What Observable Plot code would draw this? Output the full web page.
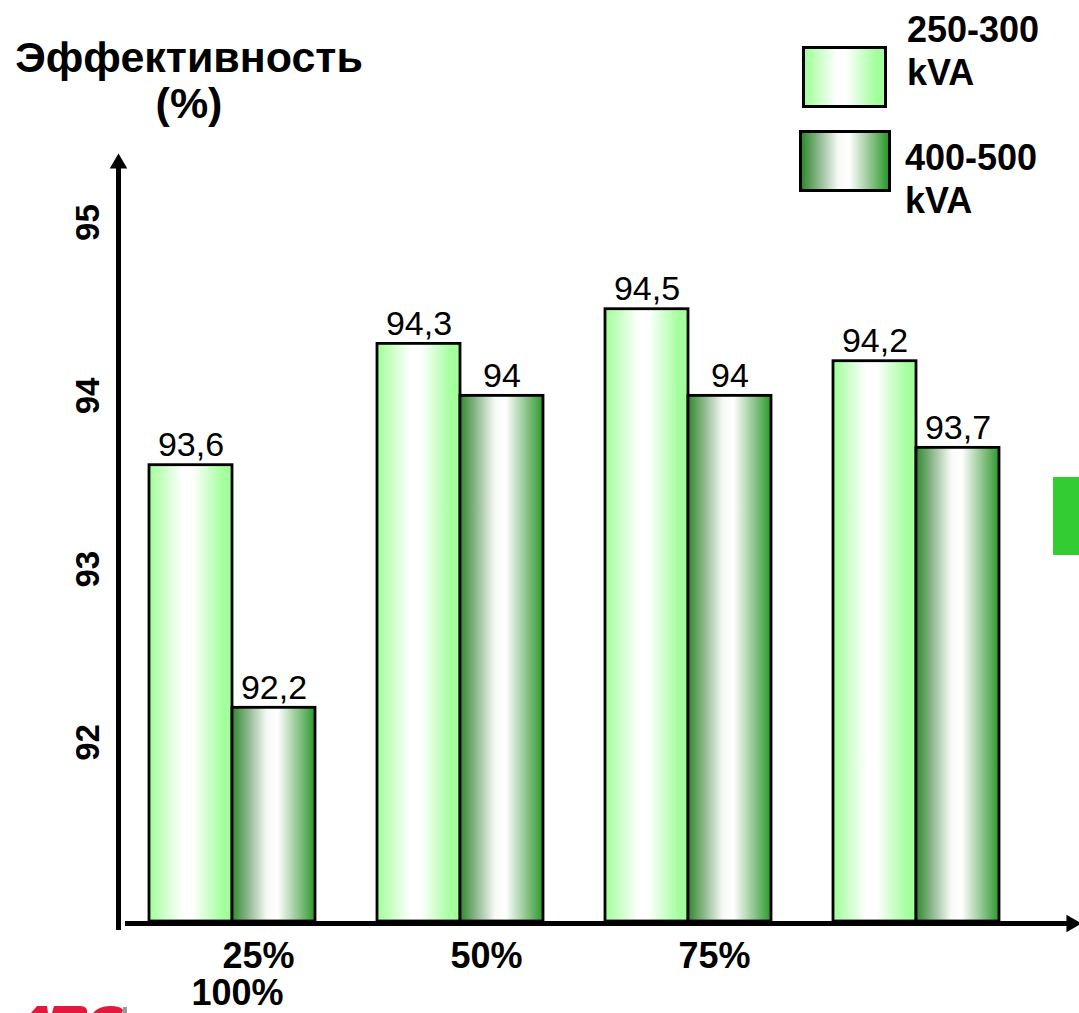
<!DOCTYPE html>
<html><head><meta charset="utf-8">
<script src="https://cdn.jsdelivr.net/npm/d3@7"></script>
<script src="https://cdn.jsdelivr.net/npm/@observablehq/plot@0.6"></script>
<style>
body{margin:0;background:#fff;}
#wrap{position:relative;width:1079px;height:1013px;overflow:hidden;font-family:"Liberation Sans",Arial,sans-serif;color:#000;}
#chart{position:absolute;left:0;top:0;}
.title{position:absolute;left:9px;top:34px;width:360px;text-align:center;font-weight:bold;font-size:43px;line-height:46px;}
.swatch{position:absolute;border:3px solid #000;box-sizing:border-box;}
.ltext{position:absolute;font-weight:bold;font-size:36px;line-height:43px;}
#greenbox{position:absolute;left:1053px;top:477px;width:26px;height:78px;background:#33cc33;}
#logo{position:absolute;left:0;top:1000px;}
</style></head><body>
<div id="wrap">
  <div id="chart"></div>
  <div class="title">Эффективность<br>(%)</div>
  <div id="legend"></div>
  <div id="greenbox"></div>
  <svg id="logo" width="140" height="13" viewBox="0 1000 140 13">
    <path fill="#e4173e" d="M31,1013 L37,1006 L47,1006 L48,1013 Z"/>
    <path fill="#e4173e" d="M52,1013 L54,1006 L80,1006 Q88,1006 87,1013 Z"/>
    <path fill="#e4173e" d="M93,1013 Q99,1006 110,1006 Q121,1006 123,1010 L122,1013 Z"/>
    <rect x="123" y="1007" width="4" height="6" fill="#9a9a9a"/>
  </svg>
</div>
<script>
// ---- data ----
const categories = ["25%", "50%", "75%", "100%"];
const series = ["250-300 kVA", "400-500 kVA"];
const valuesLow = [93.6, 94.3, 94.5, 94.2];   // 250-300 kVA
const valuesHigh = [92.2, 94.0, 94.0, 93.7];  // 400-500 kVA
const yTicks = [92, 93, 94, 95];
const yDomain = [90.967, 95.387];
const legendLines = [["250-300", "kVA"], ["400-500", "kVA"]];

// ---- tables ----
const rowsLow = categories.map((c, i) => ({cat: c, series: series[0], value: valuesLow[i]}));
const rowsHigh = categories.map((c, i) => ({cat: c, series: series[1], value: valuesHigh[i]}));
const rows = rowsLow.concat(rowsHigh);
const fmt = v => String(v).replace(".", ",");
// the category text box wraps after three labels: the 4th goes to a second line under the first
const labelRows = categories.map((c, i) => ({label: c, col: categories[i % 3], row: i < 3 ? 0 : 1}));

const bold = {fontWeight: "bold"};
const plot = Plot.plot({
  width: 1079,
  height: 1013,
  marginLeft: 117,
  marginRight: 49,
  marginTop: 155,
  marginBottom: 92,
  fx: {domain: categories, axis: null, paddingInner: 0, paddingOuter: 0},
  x: {domain: series, axis: null, paddingInner: 0, paddingOuter: 0.359},
  y: {domain: yDomain, axis: null},
  style: {fontFamily: "Liberation Sans, Arial, sans-serif", background: "transparent", overflow: "visible", color: "black"},
  marks: [
    Plot.barY(rowsLow, {fx: "cat", x: "series", y1: yDomain[0], y2: "value", fill: "url(#gradLight)", stroke: "black", strokeWidth: 2.8}),
    Plot.barY(rowsHigh, {fx: "cat", x: "series", y1: yDomain[0], y2: "value", fill: "url(#gradDark)", stroke: "black", strokeWidth: 2.8}),
    Plot.text(rows, {fx: "cat", x: "series", y: "value", text: d => fmt(d.value), lineAnchor: "bottom", dy: -9, fontSize: 34, fill: "black"}),
    // category labels (wrapped text box)
    Plot.text(labelRows.filter(d => d.row === 0), {fx: "col", text: "label", frameAnchor: "bottom", lineAnchor: "bottom", dx: 26, dy: 46, fontSize: 36, ...bold, fill: "black"}),
    Plot.text(labelRows.filter(d => d.row === 1), {fx: "col", text: "label", frameAnchor: "bottom", lineAnchor: "bottom", dx: 5, dy: 83, fontSize: 36, ...bold, fill: "black"}),
    // y axis tick labels (left-most facet only)
    Plot.axisY({ticks: yTicks, tickSize: 0, tickRotate: -90, tickPadding: 20, fontSize: 33, ...bold, fill: "black", label: null, tickFormat: d => String(d)}),
    // axis lines with arrowheads
    Plot.frame({anchor: "left", facet: "super", stroke: "black", strokeWidth: 5, insetTop: 10, insetBottom: -6}),
    Plot.frame({anchor: "bottom", facet: "super", stroke: "black", strokeWidth: 5, insetLeft: 9, insetRight: -42, insetBottom: -2}),
    Plot.dot([0], {x: null, y: null, frameAnchor: "top-left", symbol: "triangle", r: 6.5, fill: "black", stroke: "none", dy: 8, facet: "super"}),
    Plot.dot([0], {x: null, y: null, frameAnchor: "bottom-right", symbol: "triangle", r: 6.5, rotate: 90, fill: "black", stroke: "none", dx: 41, dy: 2, facet: "super"})
  ]
});

// gradients used as bar fills
const defs = d3.select(plot).insert("defs", ":first-child");
function grad(id, stops) {
  const g = defs.append("linearGradient").attr("id", id).attr("x1", 0).attr("x2", 1).attr("y1", 0).attr("y2", 0);
  stops.forEach(([o, c]) => g.append("stop").attr("offset", o).attr("stop-color", c));
}
const lightStops = [[0, "#a0ff98"], [0.4, "#ffffff"], [0.52, "#ffffff"], [0.88, "#a6ffa0"], [1, "#a0ff98"]];
const darkStops = [[0, "#2f8a2f"], [0.18, "#86b486"], [0.42, "#f6f9f6"], [0.55, "#ffffff"], [0.8, "#8cc48c"], [1, "#2a9a2a"]];
grad("gradLight", lightStops);
grad("gradDark", darkStops);
document.getElementById("chart").appendChild(plot);

// legend
const css = stops => "linear-gradient(to right," + stops.map(([o, c]) => `${c} ${o * 100}%`).join(",") + ")";
const leg = document.getElementById("legend");
const swatches = [
  {left: 802, top: 46, w: 85, h: 62, bg: css(lightStops), tl: 907, tt: 8},
  {left: 799, top: 130, w: 92, h: 62, bg: css(darkStops), tl: 905, tt: 136}
];
swatches.forEach((s, i) => {
  const b = document.createElement("div");
  b.className = "swatch";
  Object.assign(b.style, {left: s.left + "px", top: s.top + "px", width: s.w + "px", height: s.h + "px", background: s.bg});
  leg.appendChild(b);
  const t = document.createElement("div");
  t.className = "ltext";
  Object.assign(t.style, {left: s.tl + "px", top: s.tt + "px"});
  t.innerHTML = legendLines[i].join("<br>");
  leg.appendChild(t);
});
</script>
</body></html>
